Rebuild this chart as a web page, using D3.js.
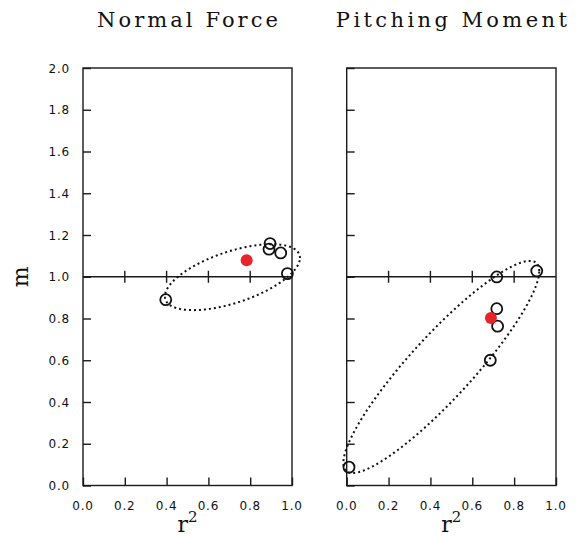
<!DOCTYPE html>
<html>
<head>
<meta charset="utf-8">
<script src="https://cdn.jsdelivr.net/npm/d3@7"></script>
<style>
  html, body { margin: 0; padding: 0; background: #fff; }
  svg { display: block; }
</style>
</head>
<body>
<svg id="chart" width="579" height="537"></svg>
<script>
// Panel titles
const panelTitles = ["Normal Force", "Pitching Moment"];

// Axis ticks
const xTicks = [0.0, 0.2, 0.4, 0.6, 0.8, 1.0];
const yTicks = [0.0, 0.2, 0.4, 0.6, 0.8, 1.0, 1.2, 1.4, 1.6, 1.8, 2.0];

// Open circles: r^2 and m for each panel
const normalR2 = [0.396, 0.895, 0.890, 0.946, 0.978];
const normalM  = [0.890, 1.159, 1.132, 1.114, 1.015];
const pitchR2  = [0.717, 0.908, 0.717, 0.721, 0.686, 0.011];
const pitchM   = [0.999, 1.028, 0.847, 0.763, 0.600, 0.088];

// Filled (mean) points
const normalMeanR2 = [0.783];
const normalMeanM  = [1.079];
const pitchMeanR2  = [0.689];
const pitchMeanM   = [0.802];

// Confidence ellipses: centre, half-extents in x and y, phase lag between x and y
const normalEllipse = [0.715, 0.998, 0.323, 0.158, 0.951];
const pitchEllipse  = [0.452, 0.568, 0.468, 0.508, 0.440];

const svg = d3.select("#chart");

const panels = [
  { title: panelTitles[0], left: 83,    right: 292, r2: normalR2, m: normalM,
    mr2: normalMeanR2, mm: normalMeanM, ell: normalEllipse, yLabels: true,
    titleLen: 181 },
  { title: panelTitles[1], left: 346.7, right: 556, r2: pitchR2, m: pitchM,
    mr2: pitchMeanR2, mm: pitchMeanM, ell: pitchEllipse, yLabels: false,
    titleLen: 231 }
];

const plotTop = 68, plotBottom = 485.5;
const ink = "#1a1a1a";

const y = d3.scaleLinear().domain([0, 2]).range([plotBottom, plotTop]);

panels.forEach(p => {
  const x = d3.scaleLinear().domain([0, 1]).range([p.left, p.right]);
  const g = svg.append("g");

  // frame
  g.append("rect")
    .attr("x", p.left).attr("y", plotTop)
    .attr("width", p.right - p.left).attr("height", plotBottom - plotTop)
    .attr("fill", "none").attr("stroke", ink).attr("stroke-width", 1.4);

  // left axis ticks (inward)
  const yAxis = d3.axisRight(y).tickValues(yTicks).tickSize(8).tickFormat("");
  const ya = g.append("g").attr("transform", `translate(${p.left},0)`).call(yAxis);
  ya.select(".domain").remove();
  ya.selectAll("line").attr("stroke", ink).attr("stroke-width", 1.4);

  if (p.yLabels) {
    g.selectAll(".ylab").data(yTicks).enter().append("text")
      .attr("x", p.left - 13).attr("y", d => y(d) + 4.5)
      .attr("text-anchor", "end")
      .attr("font-family", "DejaVu Sans, sans-serif")
      .attr("font-size", 12).attr("letter-spacing", 0.8)
      .attr("fill", "#111")
      .text(d => d.toFixed(1));
  }

  // bottom axis ticks (inward)
  const xAxis = d3.axisTop(x).tickValues(xTicks).tickSize(8).tickFormat("");
  const xa = g.append("g").attr("transform", `translate(0,${plotBottom})`).call(xAxis);
  xa.select(".domain").remove();
  xa.selectAll("line").attr("stroke", ink).attr("stroke-width", 1.4);

  g.selectAll(".xlab").data(xTicks).enter().append("text")
    .attr("x", d => x(d)).attr("y", plotBottom + 24)
    .attr("text-anchor", "middle")
    .attr("font-family", "DejaVu Sans, sans-serif")
    .attr("font-size", 12).attr("letter-spacing", 0.8)
    .attr("fill", "#111")
    .text(d => d.toFixed(1));

  // reference line at m = 1 with crossing ticks
  g.append("line")
    .attr("x1", p.left).attr("x2", p.right)
    .attr("y1", y(1)).attr("y2", y(1))
    .attr("stroke", ink).attr("stroke-width", 1.4);
  g.selectAll(".mid").data(xTicks.slice(1, -1)).enter().append("line")
    .attr("x1", d => x(d)).attr("x2", d => x(d))
    .attr("y1", y(1) - 6).attr("y2", y(1) + 6)
    .attr("stroke", ink).attr("stroke-width", 1.4);

  // dotted ellipse
  const [cx, cy, ax, ay, lag] = p.ell;
  const pts = d3.range(0, 241).map(i => {
    const t = i / 240 * 2 * Math.PI;
    return [cx + ax * Math.cos(t), cy + ay * Math.cos(t - lag)];
  });
  g.append("path")
    .attr("d", d3.line().x(d => x(d[0])).y(d => y(d[1]))(pts))
    .attr("fill", "none").attr("stroke", "#111")
    .attr("stroke-width", 2).attr("stroke-dasharray", "2,3");

  // open circles
  g.selectAll(".pt").data(p.r2.map((v, i) => [v, p.m[i]])).enter().append("circle")
    .attr("cx", d => x(d[0])).attr("cy", d => y(d[1])).attr("r", 5.5)
    .attr("fill", "none").attr("stroke", "#111").attr("stroke-width", 1.8);

  // mean point
  g.selectAll(".mean").data(p.mr2.map((v, i) => [v, p.mm[i]])).enter().append("circle")
    .attr("cx", d => x(d[0])).attr("cy", d => y(d[1])).attr("r", 6)
    .attr("fill", "#e8232a");

  // titles and axis labels
  const mid = (p.left + p.right) / 2;
  svg.append("text")
    .attr("x", mid).attr("y", 27)
    .attr("text-anchor", "middle")
    .attr("font-family", "DejaVu Serif, serif")
    .attr("font-size", 21)
    .attr("textLength", p.titleLen).attr("lengthAdjust", "spacing")
    .attr("fill", "#111")
    .text(p.title);

  const xl = svg.append("text")
    .attr("x", mid).attr("y", 532)
    .attr("text-anchor", "middle")
    .attr("font-family", "DejaVu Serif, serif")
    .attr("font-size", 22)
    .attr("fill", "#111");
  xl.append("tspan").text("r");
  xl.append("tspan").attr("font-size", 15).attr("dy", -10).text("2");
});

svg.append("text")
  .attr("transform", `translate(28,${y(1)}) rotate(-90)`)
  .attr("text-anchor", "middle")
  .attr("font-family", "DejaVu Serif, serif")
  .attr("font-size", 22)
  .attr("fill", "#111")
  .text("m");
</script>
</body>
</html>
